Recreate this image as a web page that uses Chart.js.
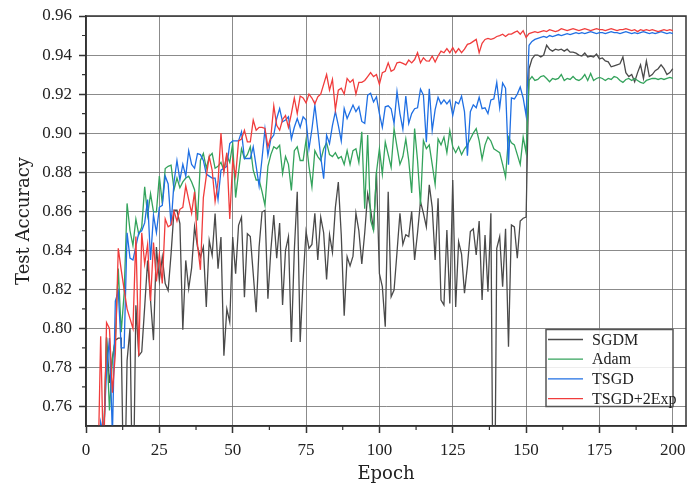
<!DOCTYPE html>
<html lang="en">
<head>
<meta charset="UTF-8">
<title>Test Accuracy vs Epoch</title>
<script src="https://cdn.jsdelivr.net/npm/chart.js"></script>
<style>
  html, body { margin: 0; padding: 0; background: #fff; }
  canvas { display: block; }
</style>
</head>
<body>
<canvas id="accChart" width="687" height="486"></canvas>
<script>
// epochs 1..200 on the x axis
const epochs = Array.from({ length: 200 }, (_, i) => i + 1);
const xTicks = [0, 25, 50, 75, 100, 125, 150, 175, 200];
const yTicks = [0.76, 0.78, 0.80, 0.82, 0.84, 0.86, 0.88, 0.90, 0.92, 0.94, 0.96];

const sgdm = [
  0.50, 0.58, 0.63, 0.68, 0.72, 0.74, 0.7955, 0.772, 0.785, 0.794,
  0.795, 0.795, 0.70, 0.7835, 0.800, 0.70, 0.8118, 0.786, 0.788, 0.811,
  0.8348, 0.8143, 0.794, 0.8417, 0.8246, 0.8365, 0.823, 0.8194, 0.8383, 0.8605,
  0.8605, 0.8537, 0.7993, 0.8348, 0.8203, 0.831, 0.852, 0.8417, 0.8365, 0.8417,
  0.811, 0.845, 0.8374, 0.8588, 0.8306, 0.8468, 0.786, 0.810, 0.8032, 0.8468,
  0.828, 0.8528, 0.857, 0.816, 0.8485, 0.847, 0.828, 0.8083, 0.8417, 0.8596,
  0.8605, 0.8152, 0.840, 0.858, 0.836, 0.854, 0.812, 0.840, 0.847, 0.793,
  0.840, 0.870, 0.793, 0.825, 0.8496, 0.841, 0.843, 0.859, 0.835, 0.857,
  0.849, 0.825, 0.848, 0.839, 0.862, 0.875, 0.848, 0.8065, 0.8367, 0.832,
  0.837, 0.859, 0.850, 0.833, 0.849, 0.869, 0.861, 0.8504, 0.880, 0.828,
  0.8214, 0.8008, 0.870, 0.8162, 0.8196, 0.839, 0.859, 0.843, 0.848, 0.847,
  0.860, 0.835, 0.849, 0.865, 0.859, 0.852, 0.8735, 0.862, 0.835, 0.8667,
  0.8145, 0.812, 0.8504, 0.8128, 0.876, 0.811, 0.8444, 0.838, 0.818, 0.832,
  0.8496, 0.851, 0.8376, 0.855, 0.8145, 0.8478, 0.8188, 0.859, 0.65, 0.841,
  0.847, 0.8214, 0.851, 0.7906, 0.853, 0.852, 0.8359, 0.855, 0.8564, 0.857,
  0.933, 0.938, 0.940, 0.940, 0.939, 0.940, 0.945, 0.943, 0.942, 0.943,
  0.9425, 0.943, 0.942, 0.943, 0.9415, 0.9415, 0.941, 0.940, 0.9395, 0.941,
  0.939, 0.9395, 0.939, 0.9405, 0.938, 0.9385, 0.937, 0.9365, 0.934, 0.9345,
  0.935, 0.9355, 0.939, 0.931, 0.929, 0.930, 0.9263, 0.931, 0.935, 0.928,
  0.937, 0.929, 0.930, 0.932, 0.933, 0.935, 0.933, 0.930, 0.931, 0.933
];

const adam = [
  0.55, 0.62, 0.68, 0.71, 0.73, 0.74, 0.795, 0.758, 0.784, 0.795,
  0.8306, 0.798, 0.818, 0.864, 0.850, 0.8425, 0.856, 0.848, 0.852, 0.8725,
  0.858, 0.869, 0.8597, 0.8597, 0.878, 0.864, 0.8819, 0.883, 0.8836, 0.871,
  0.877, 0.872, 0.875, 0.877, 0.878, 0.875, 0.871, 0.8553, 0.886, 0.8896,
  0.882, 0.888, 0.8896, 0.882, 0.883, 0.885, 0.881, 0.8887, 0.885, 0.8947,
  0.867, 0.880, 0.892, 0.887, 0.889, 0.893, 0.881, 0.876, 0.876, 0.870,
  0.863, 0.883, 0.889, 0.893, 0.892, 0.8938, 0.8793, 0.888, 0.884, 0.8707,
  0.891, 0.893, 0.886, 0.886, 0.8964, 0.883, 0.8725, 0.891, 0.888, 0.886,
  0.892, 0.895, 0.889, 0.888, 0.890, 0.887, 0.888, 0.884, 0.891, 0.884,
  0.891, 0.892, 0.885, 0.9007, 0.8613, 0.899, 0.8553, 0.8502, 0.880, 0.892,
  0.879, 0.8954, 0.889, 0.8824, 0.9023, 0.893, 0.884, 0.888, 0.897, 0.886,
  0.8694, 0.9023, 0.886, 0.8633, 0.8962, 0.892, 0.894, 0.884, 0.8737, 0.897,
  0.894, 0.898, 0.890, 0.9014, 0.893, 0.890, 0.893, 0.889, 0.892, 0.894,
  0.897, 0.900, 0.9023, 0.896, 0.8867, 0.894, 0.898, 0.896, 0.892, 0.891,
  0.890, 0.884, 0.8775, 0.898, 0.895, 0.894, 0.889, 0.884, 0.898, 0.890,
  0.927, 0.929, 0.927, 0.9275, 0.929, 0.9294, 0.928, 0.9263, 0.928, 0.9275,
  0.928, 0.930, 0.927, 0.928, 0.9275, 0.929, 0.9275, 0.927, 0.928, 0.930,
  0.927, 0.9306, 0.927, 0.928, 0.9285, 0.928, 0.927, 0.928, 0.9275, 0.929,
  0.9285, 0.927, 0.926, 0.9275, 0.928, 0.927, 0.928, 0.927, 0.926, 0.9255,
  0.927, 0.9275, 0.928, 0.928, 0.9275, 0.928, 0.9275, 0.928, 0.9285, 0.928
];

const tsgd = [
  0.55, 0.62, 0.68, 0.72, 0.752, 0.745, 0.778, 0.795, 0.745, 0.814,
  0.819, 0.790, 0.790, 0.849, 0.836, 0.835, 0.842, 0.849, 0.850, 0.854,
  0.866, 0.835, 0.858, 0.849, 0.862, 0.863, 0.878, 0.874, 0.853, 0.875,
  0.886, 0.876, 0.884, 0.878, 0.891, 0.884, 0.882, 0.8895, 0.889, 0.886,
  0.879, 0.878, 0.877, 0.877, 0.866, 0.881, 0.882, 0.883, 0.8947, 0.896,
  0.896, 0.896, 0.9007, 0.887, 0.887, 0.887, 0.893, 0.883, 0.873, 0.887,
  0.902, 0.8887, 0.897, 0.899, 0.9075, 0.9126, 0.9058, 0.9067, 0.9084, 0.897,
  0.903, 0.9075, 0.903, 0.9084, 0.9067, 0.892, 0.902, 0.9144, 0.9015, 0.888,
  0.8767, 0.899, 0.8947, 0.904, 0.911, 0.904, 0.896, 0.9126, 0.9075, 0.911,
  0.9144, 0.911, 0.9135, 0.906, 0.905, 0.9195, 0.9204, 0.916, 0.9186, 0.910,
  0.903, 0.9135, 0.914, 0.9125, 0.905, 0.9213, 0.910, 0.902, 0.919, 0.905,
  0.910, 0.9125, 0.913, 0.9225, 0.9195, 0.8954, 0.9227, 0.9014, 0.912, 0.9184,
  0.915, 0.917, 0.915, 0.917, 0.909, 0.916, 0.915, 0.919, 0.911, 0.8884,
  0.911, 0.9145, 0.913, 0.9184, 0.9125, 0.913, 0.910, 0.917, 0.9175, 0.926,
  0.913, 0.9257, 0.923, 0.8838, 0.918, 0.9175, 0.920, 0.9236, 0.918, 0.909,
  0.945, 0.947, 0.948, 0.9485, 0.949, 0.9495, 0.949, 0.950, 0.9495, 0.950,
  0.9505, 0.950, 0.9505, 0.951, 0.9505, 0.951, 0.9515, 0.951, 0.9515, 0.951,
  0.9515, 0.952, 0.9515, 0.951, 0.9515, 0.9515, 0.951, 0.9515, 0.952, 0.9515,
  0.9515, 0.951, 0.9515, 0.952, 0.9515, 0.951, 0.9515, 0.951, 0.9515, 0.952,
  0.9515, 0.951, 0.9515, 0.951, 0.9515, 0.952, 0.9515, 0.951, 0.9515, 0.951
];

const tsgd2exp = [
  0.60, 0.66, 0.70, 0.72, 0.796, 0.73, 0.803, 0.800, 0.767, 0.787,
  0.841, 0.830, 0.820, 0.810, 0.805, 0.800, 0.847, 0.786, 0.849, 0.833,
  0.843, 0.814, 0.844, 0.824, 0.838, 0.823, 0.856, 0.852, 0.853, 0.860,
  0.855, 0.861, 0.862, 0.873, 0.866, 0.859, 0.870, 0.843, 0.830, 0.867,
  0.878, 0.888, 0.881, 0.865, 0.875, 0.900, 0.880, 0.890, 0.856, 0.886,
  0.878, 0.896, 0.897, 0.9015, 0.8955, 0.8955, 0.9067, 0.9015, 0.903, 0.903,
  0.9024, 0.893, 0.898, 0.914, 0.904, 0.9015, 0.907, 0.909, 0.903, 0.910,
  0.918, 0.910, 0.919, 0.918, 0.9155, 0.920, 0.918, 0.915, 0.9186, 0.920,
  0.925, 0.930, 0.922, 0.9275, 0.912, 0.922, 0.923, 0.920, 0.928, 0.926,
  0.9275, 0.920, 0.926, 0.926, 0.927, 0.929, 0.931, 0.929, 0.930, 0.925,
  0.931, 0.9317, 0.936, 0.9317, 0.9326, 0.936, 0.9364, 0.9357, 0.935, 0.9374,
  0.936, 0.9377, 0.9412, 0.936, 0.9386, 0.937, 0.9369, 0.9395, 0.9364, 0.9395,
  0.942, 0.9412, 0.9433, 0.9412, 0.9438, 0.9412, 0.9433, 0.9412, 0.943, 0.9455,
  0.946, 0.947, 0.948, 0.9412, 0.946, 0.948, 0.9485, 0.948, 0.9485, 0.9495,
  0.950, 0.9507, 0.9495, 0.9507, 0.9507, 0.9516, 0.9523, 0.9507, 0.9525, 0.949,
  0.951, 0.9515, 0.952, 0.9515, 0.952, 0.9525, 0.952, 0.953, 0.9525, 0.952,
  0.9525, 0.9535, 0.953, 0.9525, 0.953, 0.9535, 0.953, 0.9525, 0.953, 0.9535,
  0.953, 0.9525, 0.953, 0.9535, 0.953, 0.953, 0.9525, 0.953, 0.9535, 0.953,
  0.9525, 0.953, 0.953, 0.9535, 0.953, 0.9525, 0.953, 0.952, 0.953, 0.9525,
  0.953, 0.9525, 0.953, 0.9525, 0.952, 0.9525, 0.953, 0.9525, 0.953, 0.9525
];

const seriesNames = ['SGDM', 'Adam', 'TSGD', 'TSGD+2Exp'];
const seriesColors = ['#4a4a4a', '#34a35c', '#1f6fe3', '#f03c3c'];
const seriesValues = [sgdm, adam, tsgd, tsgd2exp];

const tickFont = { family: '"Liberation Serif", serif', size: 17 };
const titleFont = { family: '"DejaVu Serif", serif', size: 18 };

// box frame + small in-between ticks
const frameAndMinorTicks = {
  id: 'frameAndMinorTicks',
  afterDraw(chart) {
    const { ctx, chartArea: a, scales: { x, y } } = chart;
    ctx.save();
    ctx.strokeStyle = '#333';
    ctx.lineWidth = 1.5;
    ctx.strokeRect(a.left, a.top, a.right - a.left, a.bottom - a.top);
    ctx.lineWidth = 1.2;
    ctx.beginPath();
    for (let i = 0; i < xTicks.length - 1; i++) {
      const px = x.getPixelForValue((xTicks[i] + xTicks[i + 1]) / 2);
      ctx.moveTo(px, a.bottom);
      ctx.lineTo(px, a.bottom + 4);
    }
    for (let i = 0; i < yTicks.length - 1; i++) {
      const py = y.getPixelForValue((yTicks[i] + yTicks[i + 1]) / 2);
      ctx.moveTo(a.left, py);
      ctx.lineTo(a.left - 4, py);
    }
    ctx.stroke();
    ctx.restore();
  }
};

// legend box sitting inside the plot, bottom right
const boxLegend = {
  id: 'boxLegend',
  afterDraw(chart) {
    const { ctx, chartArea: a } = chart;
    const w = 127, h = 77, rowH = 19.7;
    const left = a.right - 13 - w;
    const top = a.bottom - 19.5 - h;
    ctx.save();
    ctx.fillStyle = 'rgba(255,255,255,0.85)';
    ctx.fillRect(left, top, w, h);
    ctx.strokeStyle = '#555';
    ctx.lineWidth = 1.5;
    ctx.strokeRect(left, top, w, h);
    ctx.font = '16px "Liberation Serif", serif';
    ctx.textBaseline = 'middle';
    chart.data.datasets.forEach((ds, i) => {
      const yy = top + 10 + i * rowH;
      ctx.strokeStyle = ds.borderColor;
      ctx.lineWidth = 1.3;
      ctx.beginPath();
      ctx.moveTo(left + 2, yy);
      ctx.lineTo(left + 37, yy);
      ctx.stroke();
      ctx.fillStyle = '#222';
      ctx.fillText(ds.label, left + 46, yy + 1);
    });
    ctx.restore();
  }
};

const ctx = document.getElementById('accChart').getContext('2d');
new Chart(ctx, {
  type: 'line',
  data: {
    datasets: seriesNames.map((name, k) => ({
      label: name,
      data: seriesValues[k].map((v, i) => ({ x: epochs[i], y: v })),
      borderColor: seriesColors[k],
      borderWidth: 1.3,
      pointRadius: 0,
      tension: 0,
      fill: false,
      order: seriesNames.length - k
    }))
  },
  options: {
    responsive: false,
    animation: false,
    devicePixelRatio: 1,
    layout: { padding: { top: 16, right: 1, left: 0, bottom: 0 } },
    plugins: {
      legend: { display: false },
      tooltip: { enabled: false }
    },
    scales: {
      x: {
        type: 'linear',
        min: 0,
        max: 204.5,
        afterBuildTicks: s => { s.ticks = xTicks.map(v => ({ value: v })); },
        afterFit: s => { s.height = 60; s.paddingLeft = 0; s.paddingRight = 0; },
        ticks: { font: tickFont, color: '#222', padding: 7, maxRotation: 0 },
        grid: { color: 'rgba(110,110,110,0.8)', lineWidth: 1, tickLength: 7, tickColor: '#333', tickWidth: 1.5 },
        border: { color: '#333', width: 1.5 },
        title: { display: true, text: 'Epoch', font: titleFont, color: '#222', padding: { top: 0, bottom: 1 } }
      },
      y: {
        min: 0.75,
        max: 0.96,
        afterBuildTicks: s => { s.ticks = yTicks.map(v => ({ value: v })); },
        afterFit: s => { s.width = 86; s.paddingTop = 0; s.paddingBottom = 0; },
        ticks: { font: tickFont, color: '#222', padding: 7, callback: v => v.toFixed(2) },
        grid: { color: 'rgba(110,110,110,0.8)', lineWidth: 1, tickLength: 7, tickColor: '#333', tickWidth: 1.5 },
        border: { color: '#333', width: 1.5 },
        title: { display: true, text: 'Test Accuracy', font: titleFont, color: '#222', padding: { top: 14, bottom: 0 } }
      }
    }
  },
  plugins: [frameAndMinorTicks, boxLegend]
});
</script>
</body>
</html>
